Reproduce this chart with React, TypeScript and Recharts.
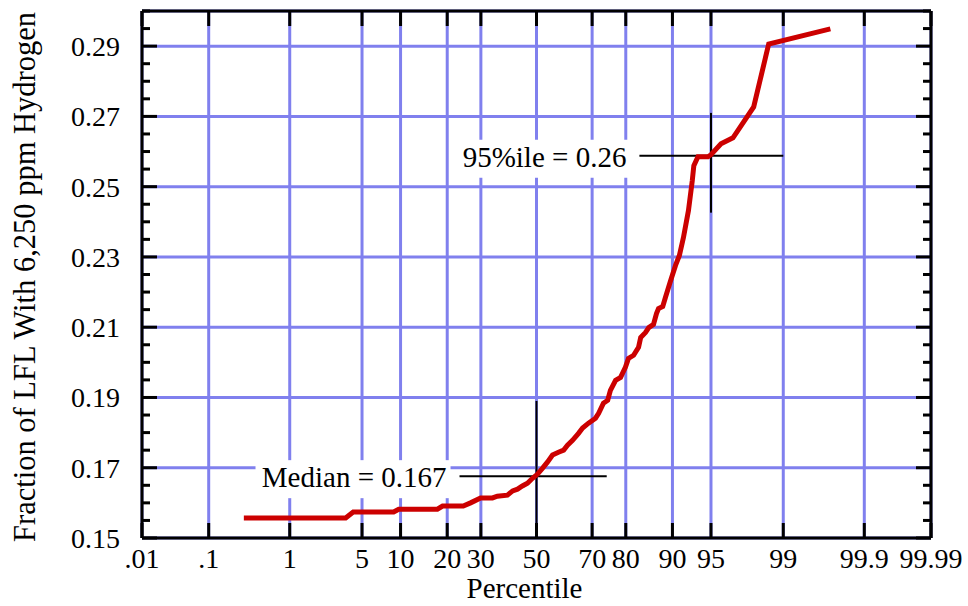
import { LineChart, Line, XAxis, YAxis, CartesianGrid, ReferenceLine } from 'recharts'

// cumulative percentile of each sample (%) and its value
const percentiles = [
  0.29, 3.6, 4.2, 8.9, 9.7, 17.5, 18.8, 24.5, 26.7, 29.9,
  33.9, 35.6, 39.2, 41.1, 42.9, 44.7, 46.6, 48.5, 50.4, 52.3,
  54.1, 56.0, 58.2, 60.1, 61.5, 63.3, 65.4, 66.8, 68.8, 71.1,
  72.1, 73.6, 74.9, 75.7, 77.2, 78.6, 79.9, 80.7, 82.0, 83.2,
  83.7, 84.8, 85.5, 86.5, 87.1, 87.5, 88.3, 88.8, 89.7, 90.5,
  91.1, 91.7, 92.4, 92.9, 93.1, 93.6, 94.7, 95.0, 95.9, 96.8,
  97.97, 98.57, 99.72,
]
const lflFractions = [
  0.1557, 0.1557, 0.1574, 0.1574, 0.1582, 0.1582, 0.1591, 0.1591, 0.16, 0.1614,
  0.1614, 0.1619, 0.1622, 0.1634, 0.1639, 0.1648, 0.1656, 0.167, 0.1682, 0.1699,
  0.1716, 0.1736, 0.1744, 0.175, 0.1764, 0.1778, 0.1798, 0.1813, 0.1827, 0.1841,
  0.1855, 0.1884, 0.1892, 0.192, 0.1949, 0.1957, 0.1986, 0.2011, 0.202, 0.2043,
  0.2071, 0.2085, 0.2099, 0.2108, 0.2139, 0.2153, 0.2159, 0.2185, 0.2233, 0.2276,
  0.2304, 0.2355, 0.2432, 0.2517, 0.256, 0.2585, 0.2585, 0.2591, 0.2622, 0.2639,
  0.2727, 0.2906, 0.2949,
]

const xTickPercentiles = [0.01, 0.1, 1, 5, 10, 20, 30, 50, 70, 80, 90, 95, 99, 99.9, 99.99]
const xTickLabels = ['.01', '.1', '1', '5', '10', '20', '30', '50', '70', '80', '90', '95', '99', '99.9', '99.99']
const yMajorTicks = [0.15, 0.17, 0.19, 0.21, 0.23, 0.25, 0.27, 0.29]
const yAllTicks = [
  0.15, 0.155, 0.16, 0.165, 0.17, 0.175, 0.18, 0.185, 0.19, 0.195, 0.2, 0.205, 0.21, 0.215, 0.22, 0.225,
  0.23, 0.235, 0.24, 0.245, 0.25, 0.255, 0.26, 0.265, 0.27, 0.275, 0.28, 0.285, 0.29, 0.295, 0.3,
]

// crosshair markers: centre, extents (percentile / value) and caption
const medianMark = { pct: 50, value: 0.1676, xFrom: 23.4, xTo: 74.6, yFrom: 0.15, yTo: 0.189, text: 'Median = 0.167' }
const p95Mark = { pct: 95, value: 0.2588, xFrom: 83.4, xTo: 99, yFrom: 0.2426, yTo: 0.271, text: '95%ile = 0.26' }

const FONT = "'Liberation Serif', 'Times New Roman', serif"
const GRID = '#8080ee'

// inverse standard normal CDF (Acklam)
function probit(p: number): number {
  const a = [-39.69683028665376, 220.9460984245205, -275.9285104469687, 138.357751867269, -30.66479806614716, 2.506628277459239]
  const b = [-54.47609879822406, 161.5858368580409, -155.6989798598866, 66.80131188771972, -13.28068155288572]
  const c = [-0.007784894002430293, -0.3223964580411365, -2.400758277161838, -2.549732539343734, 4.374664141464968, 2.938163982698783]
  const d = [0.007784695709041462, 0.3224671290700398, 2.445134137142996, 3.754408661907416]
  const tail = (q: number) =>
    (((((c[0] * q + c[1]) * q + c[2]) * q + c[3]) * q + c[4]) * q + c[5]) / ((((d[0] * q + d[1]) * q + d[2]) * q + d[3]) * q + 1)
  if (p < 0.02425) return tail(Math.sqrt(-2 * Math.log(p)))
  if (p > 1 - 0.02425) return -tail(Math.sqrt(-2 * Math.log(1 - p)))
  const q = p - 0.5
  const r = q * q
  return ((((((a[0] * r + a[1]) * r + a[2]) * r + a[3]) * r + a[4]) * r + a[5]) * q) /
    (((((b[0] * r + b[1]) * r + b[2]) * r + b[3]) * r + b[4]) * r + 1)
}

const z = (pct: number) => probit(pct / 100)

const data = percentiles.map((p, i) => ({ z: z(p), v: lflFractions[i] }))
const xTicks = xTickPercentiles.map(z)
const xDomain = [xTicks[0], xTicks[xTicks.length - 1]]

const isMajor = (v: number) => Math.round((v - 0.15) / 0.005) % 4 === 0 && v < 0.295

const BottomTick = (props: any) => {
  const { x, y, payload } = props
  const i = xTicks.indexOf(payload.value)
  return (
    <g>
      <line x1={x} y1={y} x2={x} y2={y - 15} stroke="#000" strokeWidth={3} />
      <text x={x} y={y + 30} textAnchor="middle" fontSize={28} fontFamily={FONT} fill="#000">
        {xTickLabels[i]}
      </text>
    </g>
  )
}

const TopTick = (props: any) => {
  const { x, y } = props
  return <line x1={x} y1={y} x2={x} y2={y + 15} stroke="#000" strokeWidth={3} />
}

const LeftTick = (props: any) => {
  const { x, y, payload } = props
  const major = isMajor(payload.value)
  return (
    <g>
      <line x1={x} y1={y} x2={x + (major ? 15 : 8)} y2={y} stroke="#000" strokeWidth={3} />
      {major && (
        <text x={x - 22} y={y + 10} textAnchor="end" fontSize={28} fontFamily={FONT} fill="#000">
          {payload.value.toFixed(2)}
        </text>
      )}
    </g>
  )
}

const RightTick = (props: any) => {
  const { x, y, payload } = props
  const major = isMajor(payload.value)
  return <line x1={x} y1={y} x2={x - (major ? 15 : 8)} y2={y} stroke="#000" strokeWidth={3} />
}

const markLabel = (text: string, boxWidth: number) => (props: any) => {
  const { viewBox } = props
  const right = viewBox.x - 9
  const y = viewBox.y
  return (
    <g>
      <rect x={right - boxWidth} y={y - 16} width={boxWidth} height={38} fill="#fff" />
      <text x={right - 4} y={y + 11} textAnchor="end" fontSize={29} fontFamily={FONT} fill="#000">
        {text}
      </text>
    </g>
  )
}

const Crosshair = (mark: typeof medianMark, boxWidth: number) => [
  <ReferenceLine
    key={mark.text + 'h'}
    xAxisId="b"
    yAxisId="l"
    ifOverflow="visible"
    segment={[{ x: z(mark.xFrom), y: mark.value }, { x: z(mark.xTo), y: mark.value }]}
    stroke="#000"
    strokeWidth={2}
    label={markLabel(mark.text, boxWidth)}
  />,
  <ReferenceLine
    key={mark.text + 'v'}
    xAxisId="b"
    yAxisId="l"
    ifOverflow="visible"
    segment={[{ x: z(mark.pct), y: mark.yFrom }, { x: z(mark.pct), y: mark.yTo }]}
    stroke="#000"
    strokeWidth={2}
  />,
]

const axisLine = { stroke: '#000', strokeWidth: 3 }

export default function App() {
  return (
    <div style={{ position: 'absolute', left: 0, top: 0, background: '#fff' }}>
      <LineChart width={968} height={606} data={data} margin={{ top: 10, right: 36, bottom: 67, left: 141 }}>
        <CartesianGrid xAxisId="b" yAxisId="g" stroke={GRID} strokeWidth={3} />
        <XAxis
          xAxisId="b"
          type="number"
          dataKey="z"
          domain={xDomain}
          allowDataOverflow
          ticks={xTicks}
          interval={0}
          height={1}
          tickSize={0}
          tickMargin={0}
          tickLine={false}
          axisLine={axisLine}
          tick={(p: any) => <BottomTick {...p} />}
          label={(p: any) => {
            const vb = p.viewBox
            return (
              <text x={vb.x + vb.width / 2 - 12} y={vb.y + 60} textAnchor="middle" fontSize={29} fontFamily={FONT} fill="#000">
                Percentile
              </text>
            )
          }}
        />
        <XAxis
          xAxisId="t"
          orientation="top"
          type="number"
          dataKey="z"
          domain={xDomain}
          allowDataOverflow
          ticks={xTicks}
          interval={0}
          height={1}
          tickSize={0}
          tickMargin={0}
          tickLine={false}
          axisLine={axisLine}
          tick={(p: any) => <TopTick {...p} />}
        />
        <YAxis yAxisId="g" hide orientation="right" width={0} type="number" domain={[0.15, 0.3]} allowDataOverflow ticks={yMajorTicks} interval={0} />
        <YAxis
          yAxisId="l"
          type="number"
          domain={[0.15, 0.3]}
          allowDataOverflow
          ticks={yAllTicks}
          interval={0}
          width={1}
          tickSize={0}
          tickMargin={0}
          tickLine={false}
          axisLine={axisLine}
          tick={(p: any) => <LeftTick {...p} />}
          label={() => {
            const cx = 35
            const cy = 277
            return (
              <text x={cx} y={cy} transform={`rotate(-90, ${cx}, ${cy})`} textAnchor="middle" fontSize={30.5} fontFamily={FONT} fill="#000">
                Fraction of LFL With 6,250 ppm Hydrogen
              </text>
            )
          }}
        />
        <YAxis
          yAxisId="r"
          orientation="right"
          type="number"
          domain={[0.15, 0.3]}
          allowDataOverflow
          ticks={yAllTicks}
          interval={0}
          width={1}
          tickSize={0}
          tickMargin={0}
          tickLine={false}
          axisLine={axisLine}
          tick={(p: any) => <RightTick {...p} />}
        />
        {Crosshair(medianMark, 195)}
        {Crosshair(p95Mark, 180)}
        <Line
          xAxisId="b"
          yAxisId="l"
          type="linear"
          dataKey="v"
          stroke="#cc0000"
          strokeWidth={5}
          dot={false}
          isAnimationActive={false}
        />
      </LineChart>
    </div>
  )
}
